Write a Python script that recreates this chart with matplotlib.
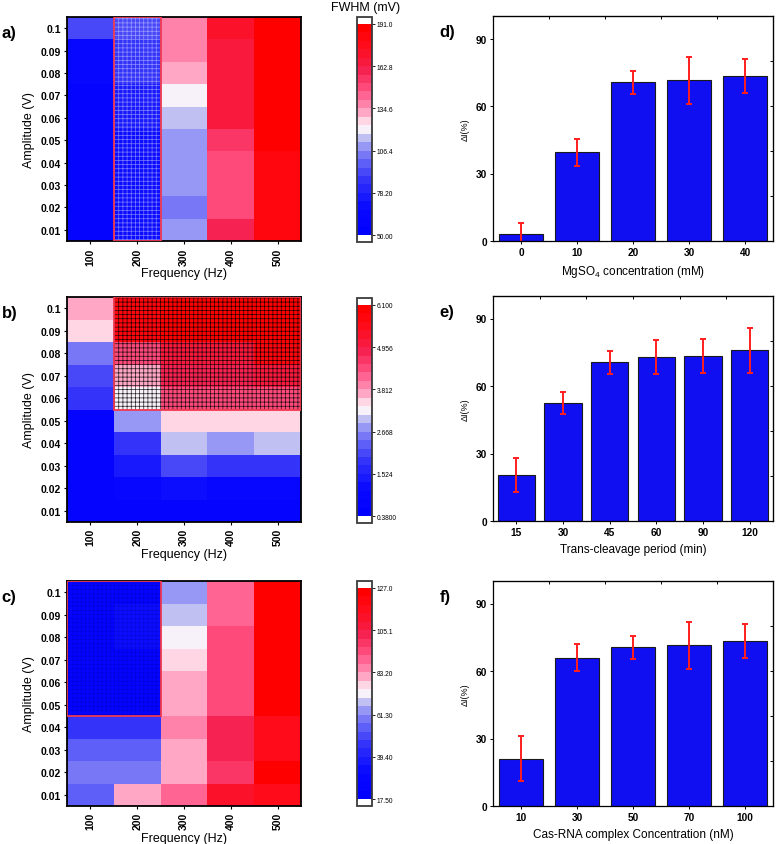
import numpy as np
import matplotlib
matplotlib.use("Agg")
import matplotlib.pyplot as plt
from matplotlib.colors import LinearSegmentedColormap
from matplotlib.patches import Rectangle

plt.rcParams["font.family"] = ["Liberation Sans", "DejaVu Sans"]
plt.rcParams["mathtext.fontset"] = "custom"
plt.rcParams["mathtext.rm"] = "Liberation Sans"
plt.rcParams["mathtext.default"] = "rm"
plt.rcParams["hatch.linewidth"] = 0.5

# ─── Datos heatmaps (filas: amplitud 0.01 → 0.1) ──────────────────
freqs = [100, 200, 300, 400, 500]
amps = [0.01, 0.02, 0.03, 0.04, 0.05, 0.06, 0.07, 0.08, 0.09, 0.1]
amp_labels = ["0.01", "0.02", "0.03", "0.04", "0.05",
              "0.06", "0.07", "0.08", "0.09", "0.1"]

# a) FWHM (mV)
fwhm_100 = [60, 60, 60, 60, 60, 60, 60, 62, 62, 92]
fwhm_200 = [67, 67, 67, 67, 67, 75, 78, 85, 89, 92]
fwhm_300 = [112, 106, 112, 112, 112, 116, 123, 130, 135, 140]
fwhm_400 = [160, 146, 146, 146, 156, 163, 163, 166, 168, 170]
fwhm_500 = [180, 180, 180, 180, 188, 188, 188, 188, 188, 188]
fwhm_range = (50.0, 191.0)
fwhm_box = [(200, 200, 0.01, 0.1)]

# b)
b_100 = [0.67, 0.67, 0.67, 0.67, 0.67, 1.81, 2.10, 2.55, 3.41, 3.70]
b_200 = [0.67, 0.95, 1.41, 1.92, 2.78, 3.24, 3.70, 4.38, 5.81, 5.81]
b_300 = [0.67, 1.07, 2.10, 2.90, 3.41, 4.27, 4.84, 4.96, 5.93, 5.93]
b_400 = [0.67, 0.95, 1.92, 2.67, 3.41, 4.27, 4.84, 5.07, 5.93, 5.93]
b_500 = [0.67, 0.95, 1.98, 2.90, 3.41, 4.38, 4.96, 5.81, 5.99, 5.99]
b_range = (0.38, 6.10)
b_box = [(200, 500, 0.06, 0.1)]

# c)
c_100 = [55, 60, 55, 47, 23, 23, 23, 23, 23, 23]
c_200 = [83, 60, 55, 44, 23, 23, 24, 31, 31, 26]
c_300 = [91, 79, 80, 84, 80, 80, 76, 72, 69, 65]
c_400 = [112, 97, 105, 102, 96, 96, 96, 96, 89, 89]
c_500 = [118, 123, 116, 116, 125, 125, 125, 125, 125, 125]
c_range = (17.5, 127.0)
c_box = [(100, 200, 0.05, 0.1)]

# ─── Datos barras ─────────────────────────────────────────────────
mg_labels = ["0", "10", "20", "30", "40"]
mg_vals = [3, 39.5, 70.5, 71.5, 73.5]
mg_errs = [5, 6, 5, 10.5, 7.5]

tc_labels = ["15", "30", "45", "60", "90", "120"]
tc_vals = [20.5, 52.5, 70.5, 73, 73.5, 76]
tc_errs = [7.5, 5, 5.2, 7.5, 7.5, 10]

cas_labels = ["10", "30", "50", "70", "100"]
cas_vals = [21, 66, 70.5, 71.5, 73.5]
cas_errs = [10, 6, 5, 10.5, 7.5]

# ─── Estilo ───────────────────────────────────────────────────────
W, H = 776, 845
anchors = [(0.0, (0, 0, 1)), (0.12, (0.04, 0.04, 1)), (0.25, (0.2, 0.2, 0.98)),
           (0.35, (0.4, 0.4, 0.97)), (0.42, (0.6, 0.6, 0.96)),
           (0.47, (0.8, 0.8, 0.95)), (0.5, (0.97, 0.95, 0.98)),
           (0.54, (1, 0.85, 0.9)), (0.6, (1, 0.58, 0.72)),
           (0.7, (1, 0.3, 0.5)), (0.8, (0.96, 0.12, 0.3)),
           (0.9, (1, 0.05, 0.12)), (1.0, (1, 0, 0))]
CMAP = LinearSegmentedColormap.from_list("fwhm", anchors, N=25) \
    .with_extremes(under="white", over="white")

fig = plt.figure(figsize=(W / 100, H / 100), dpi=100)


def px_axes(x0, y0, x1, y1):
    return fig.add_axes([x0 / W, 1 - y1 / H, (x1 - x0) / W, (y1 - y0) / H])


def draw_heat(ax, cax, cols, vrange, boxes, hatch_color, panel):
    Z = np.column_stack(cols)
    mesh = ax.pcolormesh(freqs, amps, Z, cmap=CMAP, vmin=vrange[0],
                         vmax=vrange[1], shading="nearest")
    df = (freqs[1] - freqs[0]) / 2
    da = (amps[1] - amps[0]) / 2
    for f0, f1, a0, a1 in boxes:
        xy = (f0 - df, a0 - da)
        w, h = f1 - f0 + 2 * df, a1 - a0 + 2 * da
        ax.add_patch(Rectangle(xy, w, h, facecolor="none", edgecolor=hatch_color,
                               lw=0, hatch="++++", zorder=3))
        ax.add_patch(Rectangle(xy, w, h, facecolor="none", edgecolor="#f0384f",
                               lw=1.3, zorder=4))
    ax.set_xticks(freqs)
    ax.set_xticklabels([str(f) for f in freqs], rotation=90,
                       fontweight="bold", fontsize=7.5)
    ax.set_yticks(amps)
    ax.set_yticklabels(amp_labels, fontweight="bold", fontsize=7.5)
    ax.tick_params(length=2.5, width=0.8, pad=2)
    for s in ax.spines.values():
        s.set_linewidth(1.3)
    ax.set_xlabel("Frequency (Hz)", fontsize=9, labelpad=2)
    ax.set_ylabel("Amplitude (V)", fontsize=9, labelpad=4)

    cb = fig.colorbar(mesh, cax=cax, extend="both", extendrect=True,
                      extendfrac=0.032)
    ticks = np.linspace(vrange[0], vrange[1], 6)
    cb.set_ticks(ticks)
    cb.set_ticklabels([f"{t:#.4g}" for t in ticks])
    cb.ax.tick_params(labelsize=4.8, length=2, width=0.6, pad=1.5)
    cb.outline.set_linewidth(1.3)
    cb.outline.set_edgecolor("#3a3a3a")
    ax.text(-0.28, 0.93, panel, transform=ax.transAxes, fontsize=12,
            fontweight="bold", va="center")


def draw_bars(ax, labels, vals, errs, xlabel, panel):
    x = np.arange(len(vals))
    ax.bar(x, vals, width=0.8, color="#0f0ff2", edgecolor="#1a1a1a", lw=0.8,
           yerr=errs, error_kw=dict(ecolor="#ff1f1f", elinewidth=1.4,
                                    capsize=2.5, capthick=1.4))
    ax.set_xlim(-0.5, len(vals) - 0.5)
    ax.set_ylim(0, 100)
    ax.set_xticks(x)
    ax.set_xticklabels(labels)
    ax.set_yticks([0, 30, 60, 90])
    ax.tick_params(labelsize=7.3, length=2.5, width=0.7, pad=2)
    for lab in ax.get_xticklabels() + ax.get_yticklabels():
        lab.set_fontweight("bold")
    for s in ax.spines.values():
        s.set_linewidth(0.9)
    top = ax.secondary_xaxis("top")
    top.set_xticks(x[:-1] + 0.5)
    top.tick_params(direction="in", length=2.5, width=0.7, labeltop=False)
    right = ax.secondary_yaxis("right")
    right.set_yticks([20, 40, 60, 80])
    right.tick_params(direction="in", length=2.5, width=0.7, labelright=False)
    ax.set_xlabel(xlabel, fontsize=8.5, labelpad=4)
    ax.set_ylabel("ΔI(%)", fontsize=6.5, labelpad=4)
    ax.text(-0.19, 0.93, panel, transform=ax.transAxes, fontsize=12,
            fontweight="bold", va="center")


# ─── Heatmaps ─────────────────────────────────────────────────────
ax_a = px_axes(67, 18, 301, 242)
cax_a = px_axes(357, 18, 372, 243)
draw_heat(ax_a, cax_a, [fwhm_100, fwhm_200, fwhm_300, fwhm_400, fwhm_500],
          fwhm_range, fwhm_box, (1, 1, 1, 0.45), "a)")
fig.text(366 / W, 1 - 8 / H, "FWHM (mV)", ha="center", va="center",
         fontsize=9)

ax_b = px_axes(67, 298, 301, 523)
cax_b = px_axes(357, 299, 372, 524)
draw_heat(ax_b, cax_b, [b_100, b_200, b_300, b_400, b_500],
          b_range, b_box, (0, 0, 0, 0.85), "b)")

ax_c = px_axes(67, 582, 301, 807)
cax_c = px_axes(357, 582, 372, 807)
draw_heat(ax_c, cax_c, [c_100, c_200, c_300, c_400, c_500],
          c_range, c_box, (0, 0, 0.55, 0.3), "c)")

# ─── Barras ───────────────────────────────────────────────────────
ax_d = px_axes(493, 17, 773, 242)
draw_bars(ax_d, mg_labels, mg_vals, mg_errs, "MgSO$_4$ concentration (mM)", "d)")
ax_e = px_axes(493, 297, 773, 522)
draw_bars(ax_e, tc_labels, tc_vals, tc_errs, "Trans-cleavage period (min)", "e)")
ax_f = px_axes(493, 582, 773, 807)
draw_bars(ax_f, cas_labels, cas_vals, cas_errs,
          "Cas-RNA complex Concentration (nM)", "f)")

fig.savefig("out.png", dpi=100)
